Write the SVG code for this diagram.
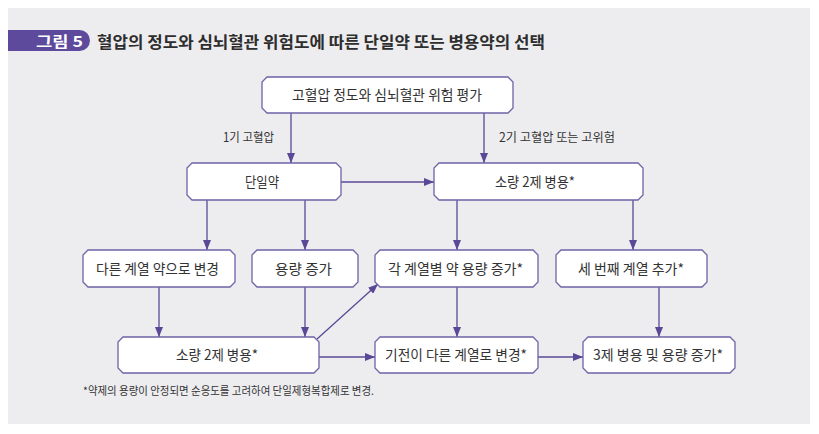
<svg xmlns="http://www.w3.org/2000/svg" width="819" height="434" viewBox="0 0 819 434">
<defs>
<style>
.node polygon{fill:#ffffff;stroke:#6e63a6;stroke-width:1.3}
.node text,.lbl{font-family:"Noto Sans CJK KR","Noto Sans",sans-serif;font-size:14px;fill:#333333;text-anchor:middle}
.lbl{font-size:12.5px}
#connectors line{stroke:#5a4897;stroke-width:1.3;fill:none;marker-end:url(#arr)}
.title{font-family:"Noto Sans CJK KR","Noto Sans",sans-serif;font-weight:bold;font-size:16px;fill:#2e2e2e}
.foot{font-family:"Noto Sans CJK KR","Noto Sans",sans-serif;font-size:11px;fill:#333333}
</style>
<marker id="arr" markerUnits="userSpaceOnUse" markerWidth="10" markerHeight="8" refX="10" refY="4" orient="auto">
<path d="M0,0 L10,4 L0,8 Z" fill="#5a4897"/>
</marker>
</defs>
<rect x="0" y="0" width="819" height="434" fill="#ffffff"/>
<rect x="8" y="8" width="802" height="416" fill="#ededf0"/>
<g id="title">
<path d="M8,30 H79.5 A10.5,10.5 0 0 1 79.5,51 H8 Z" fill="#5e4a9c"/>
<text x="83" y="47" text-anchor="end" font-family="'Noto Sans CJK KR','Noto Sans',sans-serif" font-weight="bold" font-size="15" fill="#ffffff" textLength="47" lengthAdjust="spacingAndGlyphs">그림 5</text>
<text class="title" x="97" y="48" textLength="448" lengthAdjust="spacingAndGlyphs">혈압의 정도와 심뇌혈관 위험도에 따른 단일약 또는 병용약의 선택</text>
</g>
<g id="connectors">
<line x1="291" y1="113" x2="291" y2="163"/>
<line x1="484" y1="113" x2="484" y2="163"/>
<line x1="341" y1="182" x2="434" y2="182"/>
<line x1="207" y1="200" x2="207" y2="250"/>
<line x1="305" y1="200" x2="305" y2="250"/>
<line x1="457" y1="200" x2="457" y2="250"/>
<line x1="633" y1="200" x2="633" y2="250"/>
<line x1="159" y1="287" x2="159" y2="337"/>
<line x1="305" y1="287" x2="305" y2="337"/>
<line x1="317" y1="339" x2="378" y2="284"/>
<line x1="319" y1="357" x2="375" y2="357"/>
<line x1="457" y1="287" x2="457" y2="337"/>
<line x1="659" y1="287" x2="659" y2="337"/>
<line x1="538" y1="357" x2="583" y2="357"/>
<text class="lbl" x="248.5" y="142" textLength="51" lengthAdjust="spacingAndGlyphs">1기 고혈압</text>
<text class="lbl" x="557" y="142" textLength="116" lengthAdjust="spacingAndGlyphs">2기 고혈압 또는 고위험</text>
</g>
<g id="n1" class="node">
<polygon points="267,77 508,77 513,82 513,108 508,113 267,113 262,108 262,82"/>
<text x="387" y="100" textLength="190" lengthAdjust="spacingAndGlyphs">고혈압 정도와 심뇌혈관 위험 평가</text>
</g>
<g id="n2" class="node">
<polygon points="192,163 336,163 341,168 341,195 336,200 192,200 187,195 187,168"/>
<text x="262" y="187" textLength="34" lengthAdjust="spacingAndGlyphs">단일약</text>
</g>
<g id="n3" class="node">
<polygon points="439,163 638,163 643,168 643,195 638,200 439,200 434,195 434,168"/>
<text x="535" y="187" textLength="80" lengthAdjust="spacingAndGlyphs">소량 2제 병용*</text>
</g>
<g id="n4" class="node">
<polygon points="88,250 230,250 235,255 235,282 230,287 88,287 83,282 83,255"/>
<text x="157.5" y="274" textLength="123" lengthAdjust="spacingAndGlyphs">다른 계열 약으로 변경</text>
</g>
<g id="n5" class="node">
<polygon points="257,250 353,250 358,255 358,282 353,287 257,287 252,282 252,255"/>
<text x="303.5" y="274" textLength="57" lengthAdjust="spacingAndGlyphs">용량 증가</text>
</g>
<g id="n6" class="node">
<polygon points="380,250 533,250 538,255 538,282 533,287 380,287 375,282 375,255"/>
<text x="455.5" y="274" textLength="135" lengthAdjust="spacingAndGlyphs">각 계열별 약 용량 증가*</text>
</g>
<g id="n7" class="node">
<polygon points="561,250 702,250 707,255 707,282 702,287 561,287 556,282 556,255"/>
<text x="631" y="274" textLength="106" lengthAdjust="spacingAndGlyphs">세 번째 계열 추가*</text>
</g>
<g id="n8" class="node">
<polygon points="123,337 314,337 319,342 319,368 314,373 123,373 118,368 118,342"/>
<text x="217" y="360" textLength="82" lengthAdjust="spacingAndGlyphs">소량 2제 병용*</text>
</g>
<g id="n9" class="node">
<polygon points="380,337 533,337 538,342 538,368 533,373 380,373 375,368 375,342"/>
<text x="456" y="360" textLength="142" lengthAdjust="spacingAndGlyphs">기전이 다른 계열로 변경*</text>
</g>
<g id="n10" class="node">
<polygon points="588,337 730,337 735,342 735,368 730,373 588,373 583,368 583,342"/>
<text x="658" y="360" textLength="130" lengthAdjust="spacingAndGlyphs">3제 병용 및 용량 증가*</text>
</g>
<text class="foot" x="83" y="395" textLength="291" lengthAdjust="spacingAndGlyphs">*약제의 용량이 안정되면 순응도를 고려하여 단일제형복합제로 변경.</text>
</svg>
